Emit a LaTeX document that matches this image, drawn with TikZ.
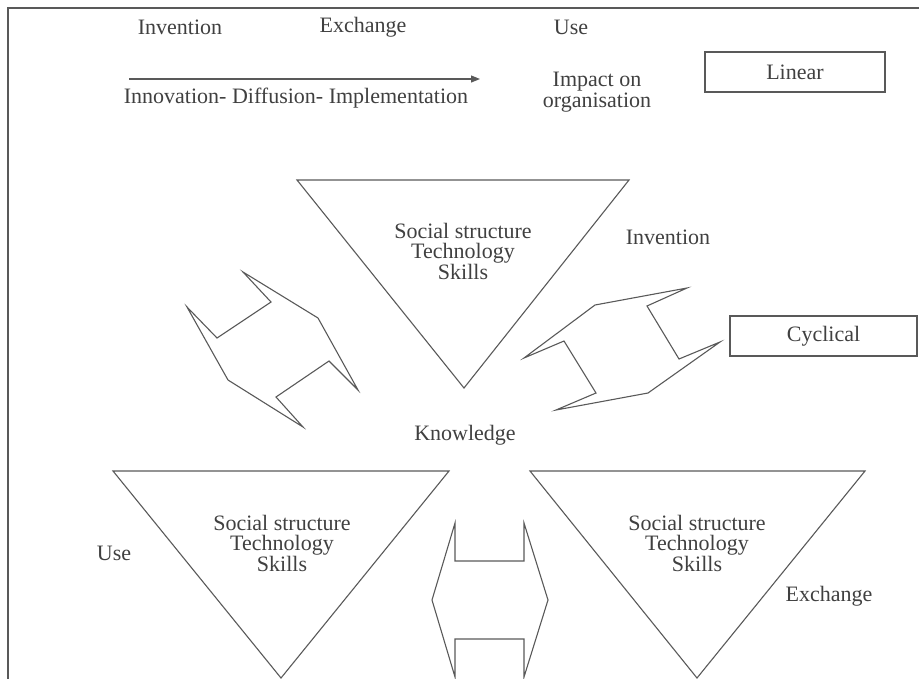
\documentclass[tikz,border=0pt]{standalone}
\usepackage{fontspec}
\setmainfont{Liberation Serif}
\usetikzlibrary{arrows.meta}
\begin{document}
\begin{tikzpicture}[x=1pt, y=-1pt,
  line/.style={draw=black!65, line width=1.1pt},
  txt/.style={text=black!75, font=\fontsize{22}{20.5}\selectfont, align=center, inner sep=0pt},
  modebox/.style={txt, draw=black!65, line width=1.1pt, minimum height=40pt}]
\path[use as bounding box] (0,0) rectangle (919,678);
\clip (0,0) rectangle (919,678);
\draw[line] (8,8) rectangle (940,700);
\node[txt] (inv) at (180,27) {Invention};
\node[txt] (exc) at (363,27) {Exchange};
\node[txt] (use) at (571,27) {Use};
\coordinate (arrs) at (129,79);
\coordinate (arre) at (480,79);
\node[txt] (idi) at (296,98) {Innovation- Diffusion- Implementation};
\node[txt] (imp) at (597,92) {Impact on\\organisation};
\node[modebox, minimum width=180pt] (lin) at (795,72) {Linear};
\node[modebox, minimum width=187pt] (cyc) at (823.5,336) {Cyclical};
\node[txt] (kn) at (465,435) {Knowledge};
\node[txt] (inv2) at (668,237) {Invention};
\node[txt] (use2) at (114,553) {Use};
\node[txt] (exc2) at (829,596) {Exchange};
\node[txt] (sst) at (463,251) {Social structure\\Technology\\Skills};
\node[txt] (ssl) at (282,543) {Social structure\\Technology\\Skills};
\node[txt] (ssr) at (697,543) {Social structure\\Technology\\Skills};
\draw[-{Triangle[length=9pt,width=7pt]}, line] (arrs) -- (arre);
\draw[line] (297,180) -- (629,180) -- (464,388) -- cycle;
\draw[line] (113,471) -- (449,471) -- (281,678) -- cycle;
\draw[line] (530,471) -- (865,471) -- (697,678) -- cycle;
\draw[line] (243,272) -- (271,302) -- (217,338) -- (187,307) -- (228,380) -- (303,427) -- (276,397) -- (329,361) -- (358,390) -- (318,318) -- cycle;
\draw[line] (524,358) -- (595,305) -- (687,288) -- (647,306) -- (679,359) -- (720,342) -- (648,393) -- (556,410) -- (596,393) -- (564,341) -- cycle;
\draw[line] (455,523) -- (455,561) -- (524,561) -- (524,523) -- (548,600) -- (524,677) -- (524,639) -- (455,639) -- (455,677) -- (432,600) -- cycle;
\end{tikzpicture}
\end{document}
